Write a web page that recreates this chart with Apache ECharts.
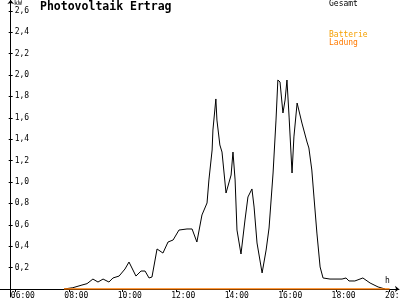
<!DOCTYPE html>
<html>
<head>
<meta charset="utf-8">
<script src="https://cdn.jsdelivr.net/npm/echarts@6/dist/echarts.min.js"></script>
<style>html,body{margin:0;padding:0;background:#fff}#c{width:400px;height:300px}</style>
</head>
<body>
<div id="c"></div>
<script>
// Gesamt (kW) over time (hours)
const times = [7.82, 8.15, 8.49, 8.68, 8.90, 9.09, 9.28, 9.50, 9.65, 9.88, 10.10, 10.25, 10.51, 10.70, 10.85, 11.00, 11.11, 11.30, 11.52, 11.71, 11.90, 12.12, 12.42, 12.61, 12.79, 12.98, 13.17, 13.24, 13.36, 13.39, 13.50, 13.54, 13.65, 13.73, 13.88, 13.95, 14.07, 14.14, 14.22, 14.29, 14.44, 14.59, 14.70, 14.85, 14.93, 15.04, 15.23, 15.38, 15.49, 15.64, 15.75, 15.82, 15.90, 16.01, 16.09, 16.16, 16.24, 16.35, 16.42, 16.54, 16.72, 16.91, 16.98, 17.09, 17.17, 17.28, 17.40, 17.51, 17.77, 18.22, 18.37, 18.48, 18.70, 19.00, 19.27, 19.57, 19.83];
const gesamt = [0, 0.012, 0.037, 0.05, 0.093, 0.065, 0.093, 0.065, 0.103, 0.121, 0.187, 0.252, 0.121, 0.168, 0.168, 0.103, 0.112, 0.374, 0.336, 0.439, 0.458, 0.551, 0.561, 0.561, 0.439, 0.692, 0.804, 1.019, 1.299, 1.486, 1.776, 1.579, 1.346, 1.280, 0.897, 0.897, 1.065, 1.280, 1.019, 0.551, 0.327, 0.645, 0.860, 0.935, 0.766, 0.430, 0.150, 0.364, 0.570, 1.084, 1.579, 1.953, 1.935, 1.645, 1.766, 1.953, 1.607, 1.084, 1.421, 1.738, 1.551, 1.374, 1.318, 1.112, 0.860, 0.523, 0.206, 0.103, 0.093, 0.093, 0.103, 0.075, 0.075, 0.103, 0.056, 0.019, 0];
// Batterie Ladung
const ladungTimes = [7.82, 20];
const ladung = [0, 0];
// axis ticks
const xTicks = { min: 6, max: 20, step: 2 };
const yTicks = { min: 0, max: 2.6, step: 0.2 };

const FONT = 'DejaVu Sans Mono';
const chart = echarts.init(document.getElementById('c'), null, { renderer: 'canvas' });
const pair = (t, v) => t.map((x, i) => [x, v[i]]);
const hh = v => (v < 10 ? '0' : '') + Math.round(v) + ':00';

chart.setOption({
  animation: false,
  backgroundColor: '#ffffff',
  title: [
    { text: 'Photovoltaik Ertrag', left: 40, top: 1, padding: 0,
      textStyle: { fontFamily: FONT, fontSize: 11.5, fontWeight: 'bold', color: '#000' } },
    { text: 'kW', left: 14, top: 0, padding: 0,
      textStyle: { fontFamily: FONT, fontSize: 6.5, fontWeight: 'normal', color: '#000' } },
    { text: 'h', left: 385, top: 277, padding: 0,
      textStyle: { fontFamily: FONT, fontSize: 8, fontWeight: 'normal', color: '#000' } },
    { text: 'Gesamt', left: 329, top: 0, padding: 0,
      textStyle: { fontFamily: FONT, fontSize: 8, fontWeight: 'normal', color: '#000' } },
    { text: 'Batterie', left: 329, top: 31, padding: 0,
      textStyle: { fontFamily: FONT, fontSize: 8, fontWeight: 'normal', color: '#f5a000' } },
    { text: 'Ladung', left: 329, top: 39, padding: 0,
      textStyle: { fontFamily: FONT, fontSize: 8, fontWeight: 'normal', color: '#ff7a00' } }
  ],
  grid: [
    { left: 15.4, right: 10.4, top: 10.8, bottom: 11, containLabel: false, outerBoundsMode: 'none' },
    { left: 0, right: 1, top: 10.8, bottom: 11, containLabel: false, outerBoundsMode: 'none' },
    { left: 10.7, right: 1, top: 0, bottom: 3, containLabel: false, outerBoundsMode: 'none' }
  ],
  xAxis: [
    { type: 'value', gridIndex: 0, min: xTicks.min, max: xTicks.max, interval: xTicks.step,
      axisLine: { show: false }, splitLine: { show: false },
      axisTick: { show: true, length: 3, lineStyle: { color: '#000' } },
      axisLabel: { fontFamily: FONT, fontSize: 8, color: '#000', margin: 3,
        align: 'center', padding: [0, 0, 0, 15], formatter: hh } },
    { type: 'value', gridIndex: 1, min: 0, max: 1,
      axisLine: { show: true, symbol: ['none', 'arrow'], symbolSize: [5, 4], lineStyle: { color: '#000', width: 1 } },
      axisTick: { show: false }, axisLabel: { show: false }, splitLine: { show: false } },
    { type: 'value', gridIndex: 2, min: 0, max: 1, show: false }
  ],
  yAxis: [
    { type: 'value', gridIndex: 0, position: 'left', min: yTicks.min, max: yTicks.max, interval: yTicks.step, offset: 4.7,
      axisLine: { show: false }, splitLine: { show: false },
      axisTick: { show: true, inside: true, length: 2, lineStyle: { color: '#000' } },
      axisLabel: { inside: true, margin: 4, fontFamily: FONT, fontSize: 8, color: '#000',
        formatter: v => v === 0 ? '' : v.toFixed(1).replace('.', ',') } },
    { type: 'value', gridIndex: 0, position: 'left', min: yTicks.min, max: yTicks.max, interval: yTicks.step, offset: 4.7,
      axisLine: { show: false }, splitLine: { show: false },
      axisTick: { show: true, length: 2, lineStyle: { color: '#000' } },
      axisLabel: { show: false } },
    { type: 'value', gridIndex: 1, min: 0, max: 1, show: false },
    { type: 'value', gridIndex: 2, min: 0, max: 1,
      axisLine: { show: true, symbol: ['none', 'arrow'], symbolSize: [5, 4], lineStyle: { color: '#000', width: 1 } },
      axisTick: { show: false }, axisLabel: { show: false }, splitLine: { show: false } }
  ],
  series: [
    { name: 'Gesamt', type: 'line', xAxisIndex: 0, yAxisIndex: 0, data: pair(times, gesamt),
      symbol: 'none', lineStyle: { color: '#000', width: 1 }, silent: true },
    { name: 'Batterie Ladung', type: 'line', xAxisIndex: 0, yAxisIndex: 0, data: pair(ladungTimes, ladung),
      symbol: 'none', lineStyle: { color: '#ff7a00', width: 1.5 }, silent: true }
  ]
});
</script>
</body>
</html>
